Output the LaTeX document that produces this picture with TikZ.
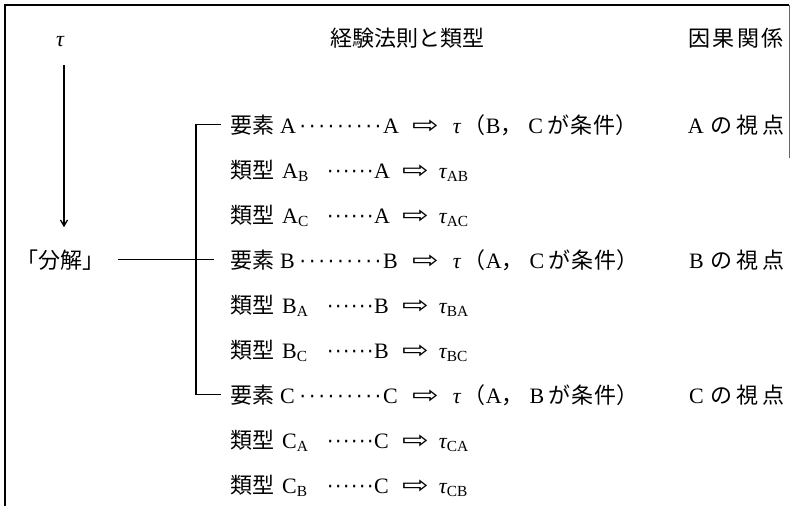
\documentclass[tikz,border=0pt]{standalone}
\usepackage{fontspec}
\usepackage{graphicx}
\setmainfont{Liberation Serif}
\newfontfamily\jp{Noto Sans CJK JP}
\newfontfamily\symf{DejaVu Sans}
\usetikzlibrary{arrows.meta}
\newcommand{\dotrun}[2]{\hbox to #1pt{\leaders\hbox to #2pt{\hss{\symf\fontsize{20}{22}\selectfont ·}\hss}\hfill}}
\newcommand{\arr}{\scalebox{1.45}[1.1]{\symf\fontsize{22}{26}\selectfont ⇨}}
\newcommand{\tauit}{{\itshape τ}}
\newcommand{\cond}[2]{\arr\hspace{14pt}\tauit\hspace{3pt}{\jp （}#1{\jp ，}\hspace{6pt}#2\hspace{4pt}{\jp が\hspace{1pt}条\hspace{1pt}件）}}
\newcommand{\view}[1]{#1\hspace{7pt}{\jp の\hspace{4pt}視\hspace{4pt}点}}
\tikzset{
  txt/.style={inner sep=0pt, anchor=base west, font=\fontsize{22}{26}\selectfont},
  ctxt/.style={txt, anchor=base},
  etxt/.style={txt, anchor=base east},
  ln/.style={line width=1.3pt},
  framel/.style={line width=1.8pt},
}
\begin{document}
\begin{tikzpicture}[x=1pt,y=-1pt]
\useasboundingbox (0,0) rectangle (792,506);
% frame
\draw[framel] (5,506) -- (5,5) -- (789,5);
\draw[line width=0.8pt, black!60] (789,5) -- (789,158);
% headers
\node[txt] (tau) at (56,46) {\tauit};
\node[ctxt] (head) at (407,46) {\jp 経験法則と類型};
\node[etxt] (cause) at (784,46) {\jp 因\hspace{2.5pt}果\hspace{2.5pt}関\hspace{2.5pt}係};
% decomposition
\node[txt] (decomp) at (16,268) {\jp 「分解」};
% element A
\node[txt] (eA) at (230,133) {{\jp 要素}\hspace{6pt}A};
\node[txt] (eAd) at (298,133) {\dotrun{85}{9.4}A};
\node[txt] (eAr) at (412,133) {\cond{B}{C}};
\node[etxt] (vA) at (785,133) {\view{A}};
\node[txt] (tAB) at (230,178) {{\jp 類型}\hspace{8pt}A\textsubscript{B}};
\node[txt] (tABd) at (326,178) {\dotrun{48}{8}A};
\node[txt] (tABr) at (402,178) {\arr\hspace{10pt}\tauit\textsubscript{AB}};
\node[txt] (tAC) at (230,223) {{\jp 類型}\hspace{8pt}A\textsubscript{C}};
\node[txt] (tACd) at (326,223) {\dotrun{48}{8}A};
\node[txt] (tACr) at (402,223) {\arr\hspace{10pt}\tauit\textsubscript{AC}};
% element B
\node[txt] (eB) at (230,268) {{\jp 要素}\hspace{6pt}B};
\node[txt] (eBd) at (298,268) {\dotrun{85}{9.4}B};
\node[txt] (eBr) at (412,268) {\cond{A}{C}};
\node[etxt] (vB) at (785,268) {\view{B}};
\node[txt] (tBA) at (230,313) {{\jp 類型}\hspace{8pt}B\textsubscript{A}};
\node[txt] (tBAd) at (326,313) {\dotrun{48}{8}B};
\node[txt] (tBAr) at (402,313) {\arr\hspace{10pt}\tauit\textsubscript{BA}};
\node[txt] (tBC) at (230,358) {{\jp 類型}\hspace{8pt}B\textsubscript{C}};
\node[txt] (tBCd) at (326,358) {\dotrun{48}{8}B};
\node[txt] (tBCr) at (402,358) {\arr\hspace{10pt}\tauit\textsubscript{BC}};
% element C
\node[txt] (eC) at (230,403) {{\jp 要素}\hspace{6pt}C};
\node[txt] (eCd) at (298,403) {\dotrun{85}{9.4}C};
\node[txt] (eCr) at (412,403) {\cond{A}{B}};
\node[etxt] (vC) at (785,403) {\view{C}};
\node[txt] (tCA) at (230,448) {{\jp 類型}\hspace{8pt}C\textsubscript{A}};
\node[txt] (tCAd) at (326,448) {\dotrun{48}{8}C};
\node[txt] (tCAr) at (402,448) {\arr\hspace{10pt}\tauit\textsubscript{CA}};
\node[txt] (tCB) at (230,493) {{\jp 類型}\hspace{8pt}C\textsubscript{B}};
\node[txt] (tCBd) at (326,493) {\dotrun{48}{8}C};
\node[txt] (tCBr) at (402,493) {\arr\hspace{10pt}\tauit\textsubscript{CB}};
% connectors
\coordinate (brx) at (196,0);
\coordinate (arrtop) at (64,65);
\draw[ln, shorten >=22pt, -{Straight Barb[length=6pt,width=7pt]}] (arrtop) -- (arrtop |- decomp.north);
\draw[ln, shorten <=14pt, shorten >=16pt] (decomp.east) -- (decomp.east -| eB.west);
\draw[ln] ([xshift=-9pt]eA.west) -- (eA.west -| brx) -- (eC.west -| brx) -- ([xshift=-9pt]eC.west);
\end{tikzpicture}
\end{document}
